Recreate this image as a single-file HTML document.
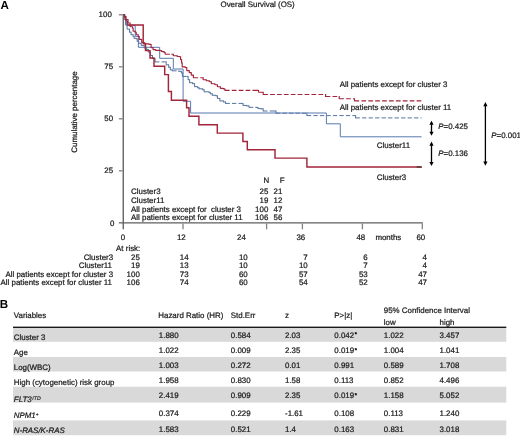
<!DOCTYPE html>
<html><head><meta charset="utf-8"><title>Overall Survival</title>
<style>
html,body{margin:0;padding:0;background:#fff;}
svg{display:block;will-change:transform;text-rendering:geometricPrecision;font-family:"Liberation Sans",sans-serif;font-size:7.92px;fill:#1a1a1a;}
text{stroke:#1a1a1a;stroke-width:0.22px;}
text.b{font-weight:bold;font-size:11.6px;fill:#000;stroke:none;}
.i{font-style:italic;}
.e{text-anchor:end;}
.m{text-anchor:middle;}
</style></head><body>
<svg width="520" height="436" viewBox="0 0 520 436">
<rect width="520" height="436" fill="#fff"/>
<text class="b" x="0.6" y="9.3">A</text>
<text class="b" x="-0.2" y="307.8">B</text>
<text x="220.5" y="6.8">Overall Survival (OS)</text>
<g stroke="#5e5e5e" stroke-width="1.35" fill="none">
<path d="M123.25 14.2 V229.3"/>
<path d="M118.9 222.9 H422.9"/>
</g>
<g stroke="#828282" stroke-width="1.3" fill="none">
<path d="M118.9 14.8 H122.6"/>
<path d="M118.9 66.8 H122.6"/>
<path d="M118.9 118.8 H122.6"/>
<path d="M118.9 170.8 H122.6"/>
<path d="M183.0 223.5 V229.3"/>
<path d="M266.6 223.5 V229.3"/>
<path d="M302.4 223.5 V229.3"/>
<path d="M362.4 223.5 V229.3"/>
<path d="M422.3 223.5 V229.3"/>
</g>
<text class="e" x="111.8" y="16.7">100</text>
<text class="e" x="113.1" y="68.9">75</text>
<text class="e" x="113.1" y="121.0">50</text>
<text class="e" x="113.1" y="173.0">25</text>
<text class="e" x="114.4" y="225.5">0</text>
<text class="m" transform="translate(76.5 112) rotate(-90)">Cumulative percentage</text>
<text class="m" x="123.0" y="239.7">0</text>
<text class="m" x="181.3" y="239.7">12</text>
<text class="m" x="241.5" y="239.7">24</text>
<text class="m" x="300.8" y="239.7">36</text>
<text class="m" x="360.8" y="239.7">48</text>
<text class="m" x="420.8" y="239.7">60</text>
<text x="375.4" y="239.7">months</text>
<g fill="none" stroke-linejoin="miter">
<path d="M123.4 14.6 H124.5 M124.5 14.2 V16.4 M124.5 16.0 H125.0 M125.0 15.6 V21.4 M125.0 21.0 H125.6 M125.6 20.6 V25.6 M125.6 25.2 H127.1 M127.1 24.8 V29.6 M127.1 29.2 H129.6 M129.6 28.8 V32.6 M129.6 32.2 H131.1 M131.1 31.8 V35.1 M131.1 34.7 H133.1 M133.1 34.3 V36.7 M133.1 36.3 H134.1 M134.1 35.9 V38.7 M134.1 38.3 H136.2 M136.2 37.9 V39.2 M136.2 38.8 H137.2 M137.2 38.4 V41.7 M137.2 41.3 H138.7 M138.7 40.9 V43.7 M138.7 43.3 H141.2 M141.2 42.9 V45.8 M141.2 45.4 H144.2 M144.2 45.0 V48.3 M144.2 47.9 H146.3 M146.3 47.5 V49.8 M146.3 49.4 H148.3 M148.3 49.0 V52.4 M148.3 52.0 H150.5 M150.5 51.6 V55.9 M150.5 55.5 H152.5 M152.5 55.1 V58.9 M152.5 58.5 H155.1 M155.1 58.1 V62.3 M155.1 61.9 H165.2 M165.2 61.9 H166.2 M166.2 61.5 V65.2 M166.2 64.8 H168.7 M168.7 64.4 V67.7 M168.7 67.3 H170.3 M170.3 66.9 V70.2 M170.3 69.8 H172.3 M172.3 69.4 V71.2 M172.3 70.8 H178.8 M178.8 70.4 V71.7 M178.8 71.3 H181.4 M181.4 70.9 V73.2 M181.4 72.8 H182.4 M182.4 72.4 V76.8 M182.4 76.4 H186.6 M186.6 76.4 H188.1 M188.1 76.0 V80.1 M188.1 79.7 H189.6 M189.6 79.3 V83.1 M189.6 82.7 H192.6 M192.6 82.3 V84.1 M192.6 83.7 H194.6 M194.6 83.3 V87.1 M194.6 86.7 H197.7 M197.7 86.3 V88.2 M197.7 87.8 H199.2 M199.2 87.4 V89.2 M199.2 88.8 H202.7 M202.7 88.4 V90.2 M202.7 89.8 H204.2 M204.2 89.4 V92.2 M204.2 91.8 H208.8 M208.8 91.4 V92.7 M208.8 92.3 H210.3 M210.3 91.9 V94.2 M210.3 93.8 H212.3 M212.3 93.4 V95.7 M212.3 95.3 H215.9 M215.9 94.9 V96.2 M215.9 95.8 H217.4 M217.4 95.4 V98.8 M217.4 98.4 H219.9 M219.9 98.0 V101.3 M219.9 100.9 H223.4 M223.4 100.5 V102.3 M223.4 101.9 H225.5 M225.5 101.5 V103.8 M225.5 103.4 H241.0 M241.0 103.4 H243.0 M243.0 103.0 V105.8 M243.0 105.4 H246.7 M246.7 105.0 V106.3 M246.7 105.9 H249.0 M249.0 105.5 V107.7 M249.0 107.3 H256.0 M256.0 106.9 V107.8 M256.0 107.4 H258.0 M258.0 107.0 V109.0 M258.0 108.6 H261.0 M261.0 108.2 V109.2 M261.0 108.8 H263.2 M263.2 108.4 V111.4 M263.2 111.0 H274.0 M274.0 111.0 H276.0 M276.0 110.6 V113.6 M276.0 113.2 H306.9 M306.9 112.8 V116.0 M306.9 115.6 H355.6 M355.6 115.2 V118.3 M355.6 117.9 H421.6" stroke="#56729f" stroke-width="1" stroke-dasharray="4.3 2.2"/>
<path d="M123.4 14.6 H124.8 V20.0 H126.6 V25.3 H135.2 V36.4 H138.4 V47.3 H159.7 V58.3 H173.3 V69.0 H183.1 V101.3 H190.6 V113.0 H326.4 V123.8 H340.3 V136.8 H421.6" stroke="#5979b0" stroke-width="1"/>
<path d="M123.4 14.6 H124.6 M124.6 14.2 V16.9 M124.6 16.5 H126.0 M126.0 16.1 V19.9 M126.0 19.5 H128.0 M128.0 19.1 V23.4 M128.0 23.0 H130.1 M130.1 22.6 V27.1 M130.1 26.7 H132.6 M132.6 26.3 V28.6 M132.6 28.2 H133.1 M133.1 27.8 V31.6 M133.1 31.2 H135.2 M135.2 30.8 V32.6 M135.2 32.2 H136.2 M136.2 31.8 V35.1 M136.2 34.7 H138.2 M138.2 34.3 V36.7 M138.2 36.3 H139.2 M139.2 35.9 V39.7 M139.2 39.3 H141.7 M141.7 38.9 V42.7 M141.7 42.3 H144.2 M144.2 41.9 V44.2 M144.2 43.8 H149.0 M149.0 43.4 V44.8 M149.0 44.4 H151.1 M151.1 44.0 V48.0 M151.1 47.6 H153.1 M153.1 47.2 V50.0 M153.1 49.6 H155.6 M155.6 49.2 V50.7 M155.6 50.3 H160.2 M160.2 49.9 V51.0 M160.2 50.6 H161.7 M161.7 50.2 V52.0 M161.7 51.6 H164.2 M164.2 51.2 V53.0 M164.2 52.6 H165.2 M165.2 52.2 V54.6 M165.2 54.2 H171.3 M171.3 54.2 H173.3 M173.3 53.8 V56.1 M173.3 55.7 H177.3 M177.3 55.3 V56.9 M177.3 56.5 H179.8 M179.8 56.1 V57.3 M179.8 56.9 H180.6 M180.6 56.5 V60.0 M180.6 59.6 H181.6 M181.6 59.2 V63.4 M181.6 63.0 H182.2 M182.2 62.6 V67.2 M182.2 66.8 H185.3 M185.3 66.4 V68.0 M185.3 67.6 H186.8 M186.8 67.2 V71.0 M186.8 70.6 H189.3 M189.3 70.2 V73.0 M189.3 72.6 H191.3 M191.3 72.2 V75.5 M191.3 75.1 H193.4 M193.4 74.7 V78.1 M193.4 77.7 H202.2 M202.2 77.7 H203.2 M203.2 77.3 V80.1 M203.2 79.7 H206.3 M206.3 79.3 V81.1 M206.3 80.7 H209.3 M209.3 80.3 V82.1 M209.3 81.7 H211.3 M211.3 81.3 V84.1 M211.3 83.7 H214.8 M214.8 83.3 V85.1 M214.8 84.7 H217.4 M217.4 84.3 V87.1 M217.4 86.7 H220.4 M220.4 86.3 V88.7 M220.4 88.3 H223.4 M223.4 87.9 V89.2 M223.4 88.8 H224.9 M224.9 88.4 V90.7 M224.9 90.3 H256.8 M256.8 90.3 H258.5 M258.5 89.9 V92.6 M258.5 92.2 H261.0 M261.0 92.2 H263.2 M263.2 91.8 V94.9 M263.2 94.5 H325.6 M325.6 94.1 V96.9 M325.6 96.5 H339.2 M339.2 96.1 V99.1 M339.2 98.7 H354.5 M354.5 98.3 V101.2 M354.5 100.8 H421.6" stroke="#a2253a" stroke-width="1.15" stroke-dasharray="4.7 2.2"/>
<path d="M123.4 14.6 H124.4 V17.5 H125.8 V21.0 H127.6 V25.0" stroke="#a2253a" stroke-width="1.0"/>
<path d="M127.6 25.0 H143.2 V43.4 H145.5 V50.6 H150.0 V57.9 H154.0 V66.2 H164.7 V74.6 H168.4 V91.4 H171.4 V100.2 H186.6 V107.8 H189.0 V116.3 H198.9 V124.8 H217.3 V133.1 H242.9 V141.5 H247.3 V149.8 H275.0 V158.1 H306.9 V167.0 H421.6" stroke="#a2253a" stroke-width="1.45"/>
<path d="M416.6 167 H421.8" stroke="#5a3434" stroke-width="1.45"/>
</g>
<text x="339.7" y="87.4">All patients except for cluster 3</text>
<text x="339.7" y="110.1">All patients except for cluster 11</text>
<text x="376.8" y="147.7">Cluster11</text>
<text x="376.8" y="179.5">Cluster3</text>
<path d="M431.5 122.7 V133.8" stroke="#000" stroke-width="1.3" fill="none"/><path d="M431.5 120.7 l-2.1 4.1 h4.2 z M431.5 135.8 l-2.1 -4.1 h4.2 z" fill="#000"/>
<path d="M431.5 143.6 V164.0" stroke="#000" stroke-width="1.3" fill="none"/><path d="M431.5 141.6 l-2.1 4.1 h4.2 z M431.5 166.0 l-2.1 -4.1 h4.2 z" fill="#000"/>
<path d="M485.4 104.1 V163.7" stroke="#000" stroke-width="1.3" fill="none"/><path d="M485.4 102.1 l-2.1 4.1 h4.2 z M485.4 165.7 l-2.1 -4.1 h4.2 z" fill="#000"/>
<text x="438.3" y="128.6"><tspan class="i">P</tspan>=0.425</text>
<text x="438.3" y="156.2"><tspan class="i">P</tspan>=0.136</text>
<text x="491.3" y="137.9"><tspan class="i">P</tspan>=0.001</text>
<text x="263.6" y="182.7">N</text><text x="279.8" y="182.7">F</text>
<text x="131.1" y="194.2" xml:space="preserve">Cluster3</text>
<text class="e" x="268.3" y="194.2">25</text>
<text class="e" x="282.4" y="194.2">21</text>
<text x="131.1" y="203.3" xml:space="preserve">Cluster11</text>
<text class="e" x="268.3" y="203.3">19</text>
<text class="e" x="282.4" y="203.3">12</text>
<text x="131.1" y="211.8" xml:space="preserve">All patients except for  cluster 3</text>
<text class="e" x="268.3" y="211.8">100</text>
<text class="e" x="282.4" y="211.8">47</text>
<text x="131.1" y="220.4" xml:space="preserve">All patients except for cluster 11</text>
<text class="e" x="268.3" y="220.4">106</text>
<text class="e" x="282.4" y="220.4">56</text>
<text x="116.1" y="251.3">At risk:</text>
<text class="e" x="113.1" y="260.3">Cluster3</text>
<text class="e" x="139.8" y="260.3">25</text>
<text class="e" x="188.6" y="260.3">14</text>
<text class="e" x="247.7" y="260.3">10</text>
<text class="e" x="307.7" y="260.3">7</text>
<text class="e" x="367.7" y="260.3">6</text>
<text class="e" x="427.0" y="260.3">4</text>
<text class="e" x="112.0" y="268.3">Cluster11</text>
<text class="e" x="139.8" y="268.3">19</text>
<text class="e" x="188.6" y="268.3">13</text>
<text class="e" x="247.7" y="268.3">10</text>
<text class="e" x="307.7" y="268.3">10</text>
<text class="e" x="367.7" y="268.3">7</text>
<text class="e" x="427.0" y="268.3">4</text>
<text class="e" x="113.1" y="276.6">All patients except for cluster 3</text>
<text class="e" x="139.8" y="276.6">100</text>
<text class="e" x="188.6" y="276.6">73</text>
<text class="e" x="247.7" y="276.6">60</text>
<text class="e" x="307.7" y="276.6">57</text>
<text class="e" x="367.7" y="276.6">53</text>
<text class="e" x="427.0" y="276.6">47</text>
<text class="e" x="112.0" y="284.9">All patients except for cluster 11</text>
<text class="e" x="139.8" y="284.9">106</text>
<text class="e" x="188.6" y="284.9">74</text>
<text class="e" x="247.7" y="284.9">60</text>
<text class="e" x="307.7" y="284.9">54</text>
<text class="e" x="367.7" y="284.9">52</text>
<text class="e" x="427.0" y="284.9">47</text>
<rect x="13" y="328.0" width="493.3" height="13.8" fill="#d9d9d9"/>
<rect x="13" y="357.0" width="493.3" height="14.5" fill="#d9d9d9"/>
<rect x="13" y="386.7" width="493.3" height="15.9" fill="#d9d9d9"/>
<rect x="13" y="420.4" width="493.3" height="14.8" fill="#d9d9d9"/>
<rect x="13" y="326.6" width="493.3" height="1.4" fill="#1a1a1a"/>
<text x="13.8" y="318.2">Variables</text>
<text x="158.3" y="318">Hazard Ratio (HR)</text>
<text x="230.8" y="318">Std.Err</text>
<text x="285" y="317.6">z</text>
<text x="334.3" y="318">P&gt;|z|</text>
<text x="383.8" y="313">95% Confidence Interval</text>
<text x="383.8" y="324.5">low</text>
<text x="439.5" y="324.5">high</text>
<text x="13.8" y="340.1">Cluster 3</text>
<text x="158.8" y="337.5">1.880</text>
<text x="230.8" y="337.5">0.584</text>
<text x="285.0" y="337.5">2.03</text>
<text x="334.3" y="337.5">0.042<tspan font-size="5.6" dx="0.7" dy="-1.5" style="stroke-width:0.45px">*</tspan></text>
<text x="383.8" y="337.5">1.022</text>
<text x="439.5" y="337.5">3.457</text>
<text x="13.8" y="354.6">Age</text>
<text x="158.8" y="353.0">1.022</text>
<text x="230.8" y="353.0">0.009</text>
<text x="285.0" y="353.0">2.35</text>
<text x="334.3" y="353.0">0.019<tspan font-size="5.6" dx="0.7" dy="-1.5" style="stroke-width:0.45px">*</tspan></text>
<text x="383.8" y="353.0">1.004</text>
<text x="439.5" y="353.0">1.041</text>
<text x="13.8" y="370.1">Log(WBC)</text>
<text x="158.8" y="367.7">1.003</text>
<text x="230.8" y="367.7">0.272</text>
<text x="285.0" y="367.7">0.01</text>
<text x="334.3" y="367.7">0.991</text>
<text x="383.8" y="367.7">0.589</text>
<text x="439.5" y="367.7">1.708</text>
<text x="13.8" y="384.6">High (cytogenetic) risk group</text>
<text x="158.8" y="382.7">1.958</text>
<text x="230.8" y="382.7">0.830</text>
<text x="285.0" y="382.7">1.58</text>
<text x="334.3" y="382.7">0.113</text>
<text x="383.8" y="382.7">0.852</text>
<text x="439.5" y="382.7">4.496</text>
<text class="i" x="13.8" y="401.5">FLT3<tspan font-size="5.2" dx="0.6" dy="-1.9" style="stroke-width:0.15px">ITD</tspan></text>
<text x="158.8" y="398.0">2.419</text>
<text x="230.8" y="398.0">0.909</text>
<text x="285.0" y="398.0">2.35</text>
<text x="334.3" y="398.0">0.019<tspan font-size="5.6" dx="0.7" dy="-1.5" style="stroke-width:0.45px">*</tspan></text>
<text x="383.8" y="398.0">1.158</text>
<text x="439.5" y="398.0">5.052</text>
<text class="i" x="13.8" y="418.4">NPM1<tspan font-size="4.6" dy="-2.2">+</tspan></text>
<text x="158.8" y="415.5">0.374</text>
<text x="230.8" y="415.5">0.229</text>
<text x="285.0" y="415.5">-1.61</text>
<text x="334.3" y="415.5">0.108</text>
<text x="383.8" y="415.5">0.113</text>
<text x="439.5" y="415.5">1.240</text>
<text class="i" x="13.8" y="433.0">N-RAS/K-RAS</text>
<text x="158.8" y="431.5">1.583</text>
<text x="230.8" y="431.5">0.521</text>
<text x="285.0" y="431.5">1.4</text>
<text x="334.3" y="431.5">0.163</text>
<text x="383.8" y="431.5">0.831</text>
<text x="439.5" y="431.5">3.018</text>
</svg></body></html>
